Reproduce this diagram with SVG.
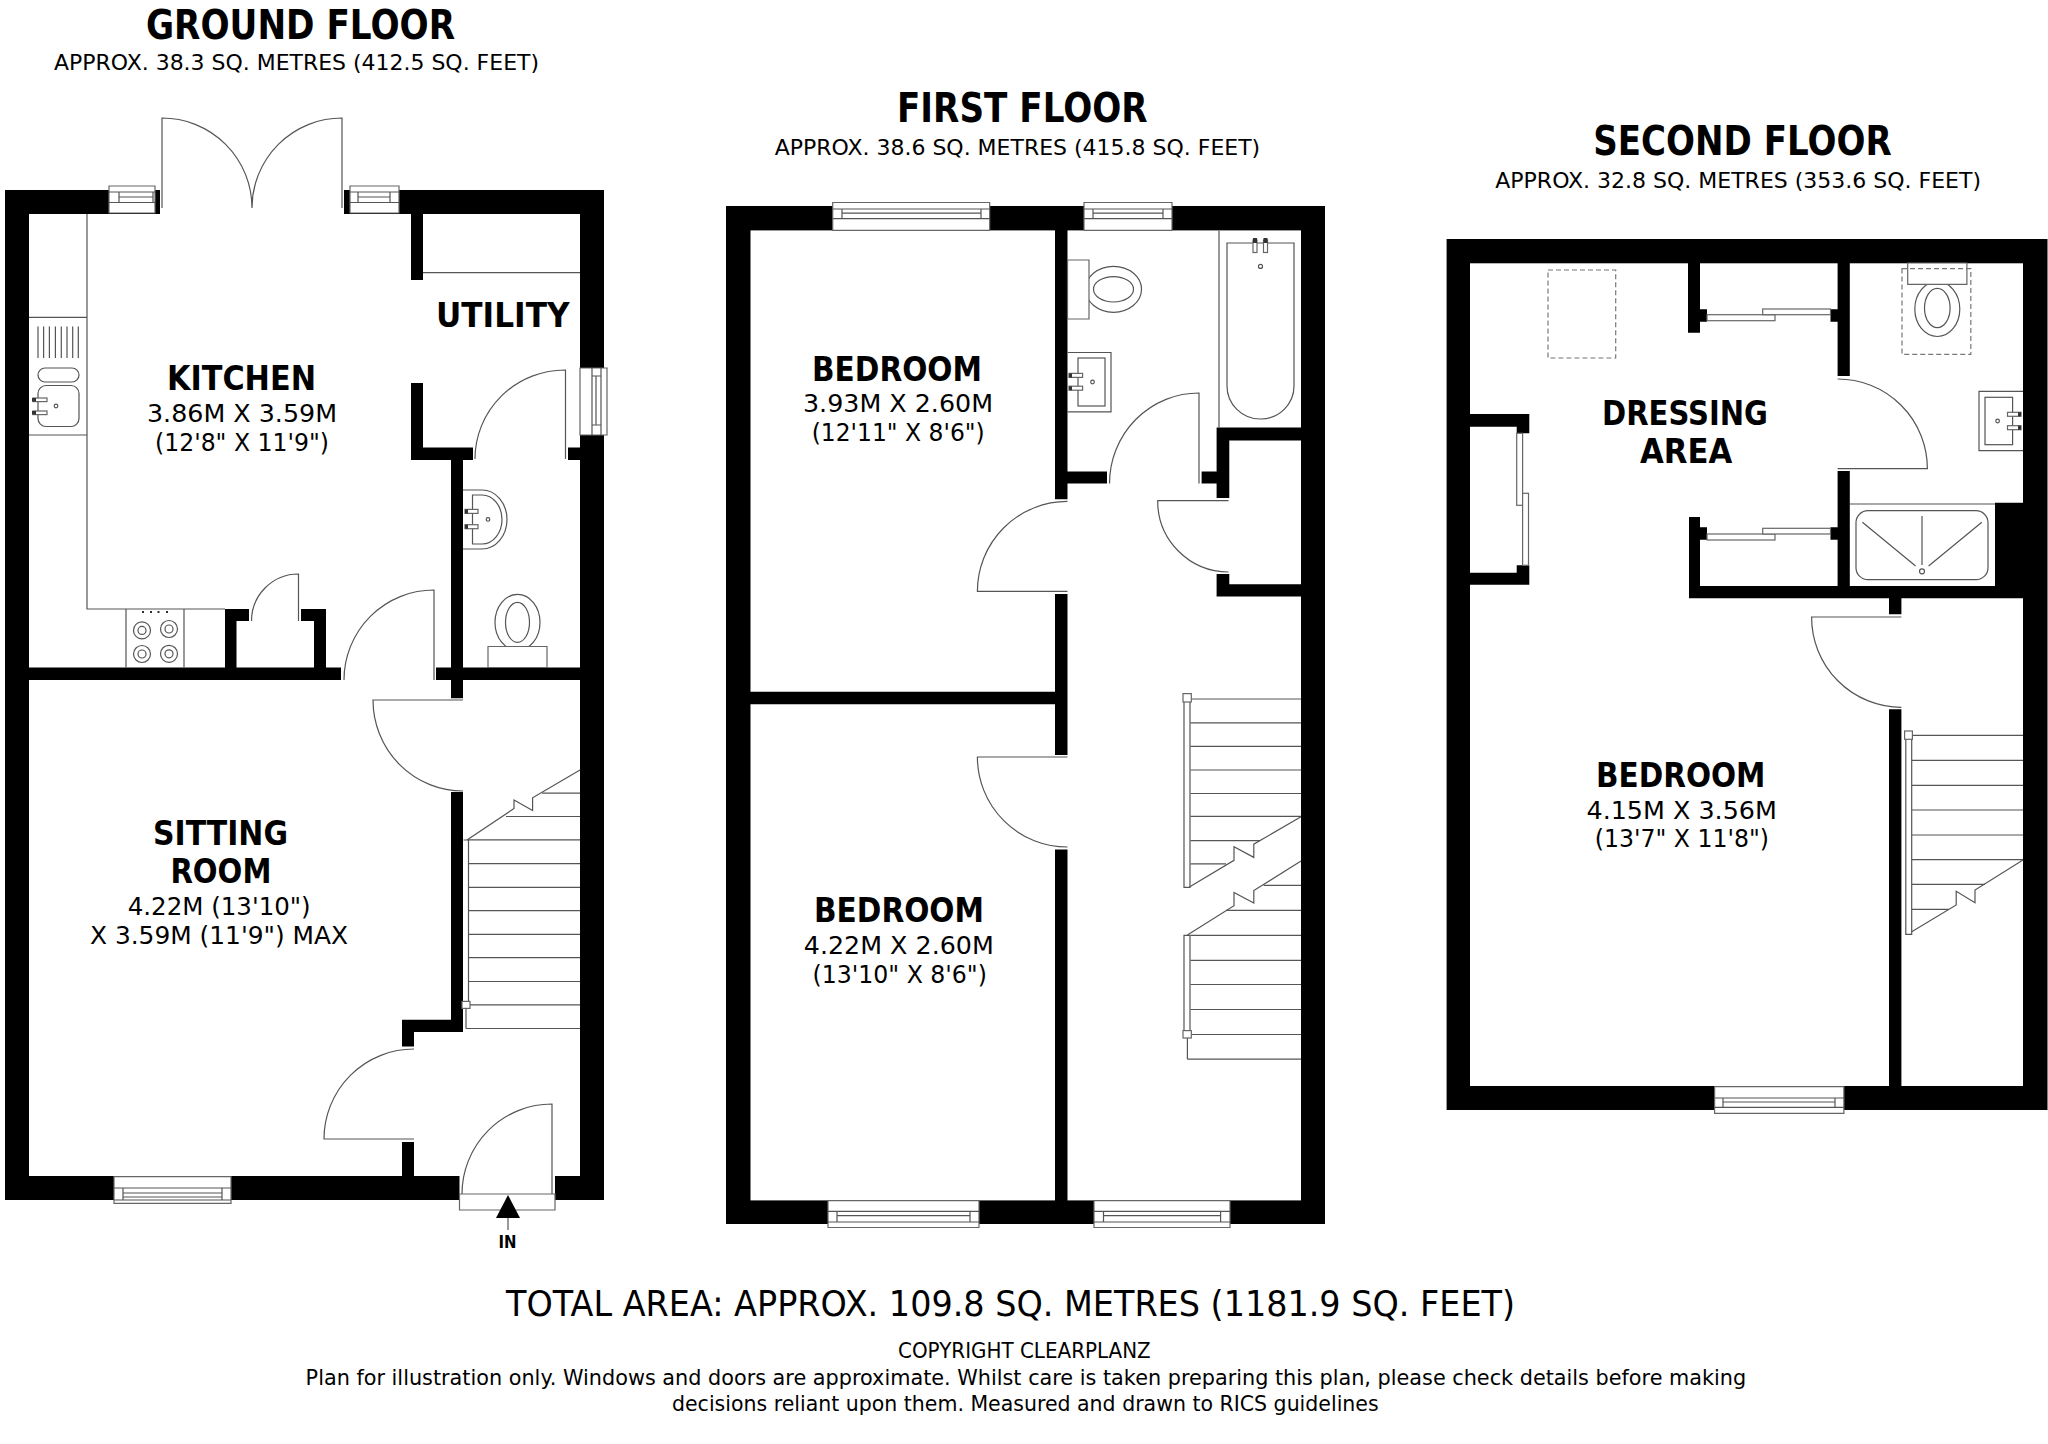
<svg xmlns="http://www.w3.org/2000/svg" width="2048" height="1444" viewBox="0 0 2048 1444">
<style>
text{font-family:"DejaVu Sans","Noto Sans",sans-serif;fill:#000}
.b{font-weight:700;font-size:33px}
.t{font-weight:700;font-size:40px}
.d{font-size:25.500px}
.s{font-size:22px}
.a{font-size:35px}
.c{font-size:22px}
.w{fill:#000}
.o{fill:#fff}
.l{fill:none;stroke:#555;stroke-width:1.2}
.f{fill:#fff;stroke:#666;stroke-width:1.2}
.r{fill:none;stroke:#666;stroke-width:1.5}
.h{fill:none;stroke:#777;stroke-width:1.2;stroke-dasharray:5 3}
.k{fill:#333}
</style>
<rect width="2048" height="1444" fill="#fff"/>

<g id="ground-floor">
<rect class="w" x="5" y="190" width="599" height="1010"/>
<rect class="o" x="29" y="214" width="551" height="962"/>
<rect class="o" x="160" y="188" width="184" height="28"/>
<rect class="o" x="459.500" y="1175" width="95.500" height="27"/>
<path class="w" d="M411 214h12v66h-12zM411 383h12v64.500h50V460H411zM568 447.500h12V460h-12zM451 460h12v238.300h-12zM29 667.500h312V680H29zM436 667.500h144V680H436zM225 609h24v12h-12.500v46.500H225zM301 609h25v58.500h-12V621h-13zM451 792h12v240h-49v14.500h-12V1019.700h49zM402 1142h12v34h-12z"/>
<g id="g-windows">
<path class="f" d="M109 186h46v27h-46z"/><path class="l" d="M109 192h46M109 202.500h46M119 192v10.500M153 192v10.500M119 197h34"/>
<path class="f" d="M350 186h49v27h-49z"/><path class="l" d="M350 192h49M350 202.500h49M358 192v10.500M390 192v10.500M358 197h32"/>
<path class="f" d="M580 368h27v67h-27z"/><path class="l" d="M592 368v67M601 368v67M592 376h9M592 425h9M596 376v49"/>
<path class="f" d="M114 1176.600h117v26.800h-117z"/><path class="l" d="M114 1188h117M114 1200h117M123 1188v12M222 1188v12M123 1193h99M123 1197h99"/>
</g>
<g id="g-doors">
<path class="l" d="M162 208V118A90 90 0 0 1 252 208M342 208V118A90 90 0 0 0 252 208"/>
<path class="l" d="M565.500 459V370A90 89 0 0 0 475 459"/>
<path class="l" d="M298.500 621V574A47 47 0 0 0 251.500 621"/>
<path class="l" d="M434 680V590A90 90 0 0 0 344 680"/>
<path class="l" d="M463 700H373A90 91 0 0 0 463 791"/>
<path class="l" d="M414 1139H324A90 90 0 0 1 414 1049"/>
<path class="l" d="M552 1194V1104A90 90 0 0 0 462 1194"/>
<path class="f" d="M459.500 1194H555V1210H459.500Z"/>
<path class="w" d="M508 1195L520 1218H496Z"/>
<path class="l" d="M508 1218V1230"/>
</g>
<g id="g-kitchen-units">
<path class="l" d="M87 214V609H225M29 317.400H87M29 435H87M423 272.600H580"/>
<path class="l" d="M38 326.500V358M43.600 326.500V358M49.400 326.500V358M55.400 326.500V358M61.300 326.500V358M67 326.500V358M72.700 326.500V358M78.300 326.500V358"/>
<rect class="l" x="38" y="368" width="41" height="14" rx="7"/>
<rect class="l" x="38" y="385.500" width="41" height="41" rx="8"/>
<rect class="f" x="33" y="398" width="14" height="3.600"/><rect class="f" x="33" y="411" width="14" height="3.600"/>
<path class="k" d="M32 398h4v3.600h-4zM32 411h4v3.600h-4z"/>
<circle class="l" cx="56" cy="406" r="1.800"/>
<path class="l" d="M126 609V667.500M184 609V667.500"/>
<circle class="l" cx="142" cy="630.400" r="8.500"/><circle class="l" cx="142" cy="630.400" r="4"/>
<circle class="l" cx="169" cy="629" r="8.500"/><circle class="l" cx="169" cy="629" r="4"/>
<circle class="l" cx="142" cy="654" r="8.500"/><circle class="l" cx="142" cy="654" r="4"/>
<circle class="l" cx="169" cy="653.800" r="8.500"/><circle class="l" cx="169" cy="653.800" r="4"/>
<path class="k" d="M142 611h2v2h-2zM150 611h2v2h-2zM157.500 611h2v2h-2zM166 611h2v2h-2z"/>
</g>
<g id="g-wc">
<ellipse class="l" cx="517.500" cy="622.400" rx="22.500" ry="28"/>
<ellipse class="l" cx="517.500" cy="622.400" rx="12" ry="20"/>
<path class="f" d="M488 646.500h59V667.500H488z"/>
<path class="l" d="M463 490H482A25 29.500 0 0 1 482 549H463"/>
<path class="l" d="M472.500 495H482A20 24.500 0 0 1 482 544H472.500Z"/>
<rect class="f" x="465" y="509.400" width="13" height="4"/><rect class="f" x="465" y="524.700" width="13" height="4"/>
<path class="k" d="M465 509.400h3v4h-3zM465 524.700h3v4h-3z"/>
<circle class="l" cx="488" cy="519.400" r="1.800"/>
</g>
<g id="g-stairs">
<path class="l" d="M542 793.200H580M506 816.500H580M468.500 839.900H580M468.500 863.600H580M468.500 887.300H580M468.500 910.700H580M468.500 934.400H580M468.500 957.700H580M468.500 981.500H580M468.500 1004.800H580M466 1028.500H580M466 1004.800V1028.500"/>
<path class="l" d="M467 840L514 808.500V800L532.600 810.400V797.800L580 770"/>
<path class="l" d="M463.500 840H468.500V1001.400"/>
<rect class="f" x="462" y="1001.400" width="8" height="7"/>
</g>
<text class="t" x="146" y="38.500" textLength="309" lengthAdjust="spacingAndGlyphs">GROUND FLOOR</text>
<text class="s" x="54" y="70" textLength="485" lengthAdjust="spacingAndGlyphs">APPROX. 38.3 SQ. METRES (412.5 SQ. FEET)</text>
<text class="b" x="167" y="389.500" textLength="149" lengthAdjust="spacingAndGlyphs">KITCHEN</text>
<text class="d" x="147" y="421.500" textLength="190" lengthAdjust="spacingAndGlyphs">3.86M X 3.59M</text>
<text class="d" x="155" y="451" textLength="174" lengthAdjust="spacingAndGlyphs">(12'8" X 11'9")</text>
<text class="b" x="436" y="327" textLength="133.600" lengthAdjust="spacingAndGlyphs">UTILITY</text>
<text class="b" x="153" y="845" textLength="135" lengthAdjust="spacingAndGlyphs">SITTING</text>
<text class="b" x="170.400" y="882.700" textLength="101" lengthAdjust="spacingAndGlyphs">ROOM</text>
<text class="d" x="127.700" y="914.500" textLength="183" lengthAdjust="spacingAndGlyphs">4.22M (13'10")</text>
<text class="d" x="90" y="944" textLength="258" lengthAdjust="spacingAndGlyphs">X 3.59M (11'9") MAX</text>
<text x="498.500" y="1247.500" font-size="18" font-weight="700" textLength="18" lengthAdjust="spacingAndGlyphs">IN</text>
</g>

<g id="first-floor">
<rect class="w" x="726" y="206" width="599" height="1018"/>
<rect class="o" x="750.500" y="230.400" width="550.500" height="970"/>
<path class="w" d="M1055 230h12.500v269.300H1055zM1055 594h12.500v161H1055zM1055 849.600h12.500V1201H1055zM750 691.800h305v12.500H750zM1067 471.400h40v12.200h-40zM1201.600 471.400h15V483.600h-15zM1216.600 427.500H1301v12.900h-71.700v57.500h-12.700zM1216.600 574h12.700v10.300H1301v12.100h-84.400z"/>
<g id="f-windows">
<path class="f" d="M832.700 202.500h157v27.900h-157z"/><path class="l" d="M832.700 209h157M832.700 218.600h157M842 209v9.600M981 209v9.600M842 213.200h139"/>
<path class="f" d="M1084 202.500h88v27.900h-88z"/><path class="l" d="M1084 209h88M1084 218.600h88M1093 209v9.600M1163 209v9.600M1093 213.200h70"/>
<path class="f" d="M828 1200.700h151v26.800h-151z"/><path class="l" d="M828 1211.400h151M828 1222h151M837 1211.400v10.600M970 1211.400v10.600M837 1215.700h133"/>
<path class="f" d="M1094 1200.700h136v26.800h-136z"/><path class="l" d="M1094 1211.400h136M1094 1222h136M1103.500 1211.400v10.600M1220.600 1211.400v10.600M1103.500 1215.700h117"/>
</g>
<g id="f-doors">
<path class="l" d="M1199 483.600V393A89.500 90.600 0 0 0 1109.500 483.600"/>
<path class="l" d="M1067.500 591.400H977.400A90 90 0 0 1 1067.500 501.400"/>
<path class="l" d="M1228.500 500.700H1157.700A71 71 0 0 0 1228.500 572"/>
<path class="l" d="M1067.500 757H977.400A90 90 0 0 0 1067.500 847"/>
</g>
<g id="f-bathroom">
<path class="l" d="M1219 230.400V427.500"/>
<path class="l" d="M1227 243H1294V386A33.500 33 0 0 1 1227 386Z"/>
<rect class="f" x="1253" y="240" width="4" height="12.500"/><rect class="f" x="1263.500" y="240" width="4" height="12.500"/>
<path class="k" d="M1253 238h4v5h-4zM1263.500 238h4v5h-4z"/>
<circle class="l" cx="1260.500" cy="266.400" r="2"/>
<ellipse class="l" cx="1113.500" cy="289.300" rx="28" ry="23"/>
<ellipse class="l" cx="1113.500" cy="289.300" rx="20" ry="12.700"/>
<path class="f" d="M1067.500 260H1089V319H1067.500Z"/>
<path class="l" d="M1067.500 352.500H1111V411.800H1067.500"/>
<rect class="l" x="1078" y="358" width="27" height="48"/>
<rect class="f" x="1069" y="373.400" width="13.600" height="4"/><rect class="f" x="1069" y="386.200" width="13.600" height="4"/>
<path class="k" d="M1069 373.400h3v4h-3zM1069 386.200h3v4h-3z"/>
<circle class="l" cx="1092.500" cy="382" r="1.800"/>
</g>
<g id="f-stairs">
<path class="l" d="M1190.500 699H1301M1190.500 722.900H1301M1190.500 746.400H1301M1190.500 770H1301M1190.500 793.500H1301M1190.500 816.400H1301M1190.500 840.700H1260M1190.500 863.900H1226"/>
<path class="l" d="M1189.400 887L1234 860.300V846.800L1253.800 857.400V844.200L1301 816.700"/>
<path class="l" d="M1184 702V887.400H1190V702"/>
<rect class="f" x="1183" y="693.600" width="8.300" height="8.400"/>
<path class="l" d="M1187.400 935L1234 905.700V892.400L1253.800 903V890.600L1301 861"/>
<path class="l" d="M1263.700 885.300H1301M1226 910.300H1301M1190.500 935.300H1301M1190.500 960.300H1301M1190.500 984.500H1301M1190.500 1009.500H1301M1190.500 1034.500H1301M1187.400 1059.200H1301M1187.400 1038V1059.200"/>
<path class="l" d="M1184 1030.600V935.300H1190V1030.600"/>
<rect class="f" x="1183" y="1030.600" width="8.300" height="7.400"/>
</g>
<text class="t" x="897" y="121.700" textLength="250.700" lengthAdjust="spacingAndGlyphs">FIRST FLOOR</text>
<text class="s" x="774.700" y="154.500" textLength="485.500" lengthAdjust="spacingAndGlyphs">APPROX. 38.6 SQ. METRES (415.8 SQ. FEET)</text>
<text class="b" x="812" y="380.700" textLength="170" lengthAdjust="spacingAndGlyphs">BEDROOM</text>
<text class="d" x="803" y="412" textLength="190" lengthAdjust="spacingAndGlyphs">3.93M X 2.60M</text>
<text class="d" x="811.700" y="441" textLength="173" lengthAdjust="spacingAndGlyphs">(12'11" X 8'6")</text>
<text class="b" x="814" y="921.800" textLength="170" lengthAdjust="spacingAndGlyphs">BEDROOM</text>
<text class="d" x="803.800" y="953.500" textLength="190" lengthAdjust="spacingAndGlyphs">4.22M X 2.60M</text>
<text class="d" x="812.500" y="982.800" textLength="174.400" lengthAdjust="spacingAndGlyphs">(13'10" X 8'6")</text>
</g>

<g id="second-floor">
<rect class="w" x="1446.600" y="239" width="600.900" height="871"/>
<rect class="o" x="1470" y="263.300" width="553" height="822.700"/>
<path class="w" d="M1688 263h12V309.300h7v12.400h-7v11h-12zM1830.500 309.300h7.100V263h12.200V376h-12.200V321.700h-7.100zM1837.600 471h12.200V586H2023V598.300H1689V517h11v10.300h7V539.700h-7V586h137.600V539.700h-7.100V527.300h7.100zM1995 502.700h28V586h-28zM1889 598h12.400v16.300H1889zM1889 709.300h12.400V1087H1889zM1470 414h59.300v19.300h-12.600V426.700H1470zM1470 572.700h46.700V565.300h12.600V584.700H1470z"/>
<g id="s-closets">
<rect class="f" x="1707" y="314.700" width="68" height="6"/><rect class="f" x="1762.700" y="309" width="67.800" height="5.700"/>
<rect class="f" x="1707" y="534" width="68" height="6"/><rect class="f" x="1762.700" y="528.300" width="67.800" height="5.700"/>
<rect class="f" x="1516.700" y="433.300" width="5.900" height="72"/><rect class="f" x="1522.600" y="493.300" width="5.900" height="72"/>
</g>
<g id="s-windows">
<path class="f" d="M1714.600 1086.700h129.300v26.600h-129.300z"/><path class="l" d="M1714.600 1098h129.300M1714.600 1107.300h129.300M1723 1098v9.300M1835 1098v9.300M1723 1102h112"/>
</g>
<g id="s-doors">
<path class="l" d="M1837.600 468.700H1927.400A89.800 89.700 0 0 0 1837.600 379"/>
<path class="l" d="M1901.400 617H1811.600A90 90 0 0 0 1901.400 707.300"/>
</g>
<g id="s-bathroom">
<path class="l" d="M1849.800 504H1995"/>
<rect class="l" x="1856" y="510.700" width="132" height="69" rx="12"/>
<path class="l" d="M1922 516V565M1862.400 522.300L1915.600 566M1981.800 522.300L1928.600 566"/>
<circle class="l" cx="1922" cy="571.300" r="2.500"/>
<ellipse class="l" cx="1937.300" cy="309" rx="22.500" ry="27.500"/>
<ellipse class="l" cx="1937.300" cy="308" rx="12.800" ry="19.700"/>
<path class="f" d="M1907.700 263H1966.900V284.300H1907.700Z"/>
<rect class="h" x="1902" y="268.700" width="68.800" height="85.600"/>
<rect class="h" x="1548" y="270" width="67.700" height="88"/>
<path class="l" d="M2023 391.300H1979V450.700H2023"/>
<rect class="l" x="1985" y="397.300" width="27.600" height="47.400"/>
<rect class="f" x="2007.500" y="412.300" width="13.500" height="4"/><rect class="f" x="2007.500" y="425.700" width="13.500" height="4"/>
<path class="k" d="M2018 412.300h3v4h-3zM2018 425.700h3v4h-3z"/>
<circle class="l" cx="1997.600" cy="421" r="1.800"/>
</g>
<g id="s-stairs">
<path class="l" d="M1911.700 735.300H2023M1911.700 760.300H2023M1911.700 785.300H2023M1911.700 810H2023M1911.700 835H2023M1911.700 859.700H2023M1911.700 884.300H1985M1911.700 909.300H1949"/>
<path class="l" d="M1911.700 931.700L1956.200 905V891.300L1975 902.700V890L2023 860"/>
<path class="l" d="M1905.800 739.300V934.300H1911.700V739.300"/>
<rect class="f" x="1904.600" y="731" width="7.800" height="8.300"/>
</g>
<text class="t" x="1593.300" y="155.300" textLength="298.400" lengthAdjust="spacingAndGlyphs">SECOND FLOOR</text>
<text class="s" x="1495.300" y="188" textLength="485.700" lengthAdjust="spacingAndGlyphs">APPROX. 32.8 SQ. METRES (353.6 SQ. FEET)</text>
<text class="b" x="1602" y="425" textLength="166" lengthAdjust="spacingAndGlyphs">DRESSING</text>
<text class="b" x="1640" y="462.700" textLength="92.300" lengthAdjust="spacingAndGlyphs">AREA</text>
<text class="b" x="1596" y="786.700" textLength="169.500" lengthAdjust="spacingAndGlyphs">BEDROOM</text>
<text class="d" x="1586.500" y="818.700" textLength="190.400" lengthAdjust="spacingAndGlyphs">4.15M X 3.56M</text>
<text class="d" x="1594.800" y="847.300" textLength="174.200" lengthAdjust="spacingAndGlyphs">(13'7" X 11'8")</text>
</g>

<g id="footer">
<text class="a" x="506" y="1315.500" textLength="1009" lengthAdjust="spacingAndGlyphs">TOTAL AREA: APPROX. 109.8 SQ. METRES (1181.9 SQ. FEET)</text>
<text class="c" x="898" y="1358" textLength="252.700" lengthAdjust="spacingAndGlyphs">COPYRIGHT CLEARPLANZ</text>
<text class="c" x="305.600" y="1384.500" textLength="1440.600" lengthAdjust="spacingAndGlyphs">Plan for illustration only. Windows and doors are approximate. Whilst care is taken preparing this plan, please check details before making</text>
<text class="c" x="672" y="1410.500" textLength="706.600" lengthAdjust="spacingAndGlyphs">decisions reliant upon them. Measured and drawn to RICS guidelines</text>
</g>
</svg>
